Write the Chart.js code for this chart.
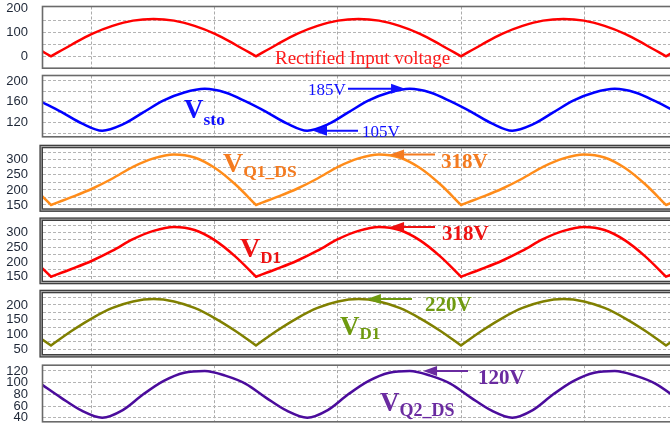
<!DOCTYPE html>
<html>
<head>
<meta charset="utf-8">
<title>Converter waveforms</title>
<script src="https://cdn.jsdelivr.net/npm/chart.js@4.4.1/dist/chart.umd.min.js"></script>
<style>
  html, body { margin: 0; padding: 0; background: #fff; }
  #scope { position: relative; width: 670px; height: 428px; overflow: hidden; }
  #scope canvas { position: absolute; left: 0; top: -30px; }
</style>
</head>
<body>
<div id="scope"></div>
<script>
// sample times (ms): cusped waveforms on whole ms, the smooth ones half a ms off
const tCusp = [-0.5].concat(Array.from({length: 31}, (v, k) => k), [30.5])
const tSmooth = Array.from({length: 32}, (v, k) => k - 0.5)
const cuspTimes = [0, 10, 20, 30]
const gridTimes = [2, 8, 14, 20, 26]

// rectified input voltage (V)
const vIn = [24,
  0, 48, 93, 126, 148, 155, 148, 126, 93, 48,
  0, 48, 93, 126, 148, 155, 148, 126, 93, 48,
  0, 48, 93, 126, 148, 155, 148, 126, 93, 48,
  0, 24]
// storage capacitor voltage (V)
const vSto = [161, 141, 119, 105, 117, 140, 163, 178, 185, 178,
  161, 141, 119, 105, 117, 140, 163, 178, 185, 178,
  161, 141, 119, 105, 117, 140, 163, 178, 185, 178,
  161, 141]
// Q1 drain-source voltage (V)
const vQ1ds = [184,
  150, 176, 204, 238, 277, 305, 318, 308, 273, 218,
  150, 176, 204, 238, 277, 305, 318, 308, 273, 218,
  150, 176, 204, 238, 277, 305, 318, 308, 273, 218,
  150, 164]
// D1 voltage (V)
const vD1 = [184,
  150, 176, 204, 238, 277, 305, 318, 308, 273, 218,
  150, 176, 204, 238, 277, 305, 318, 308, 273, 218,
  150, 176, 204, 238, 277, 305, 318, 308, 273, 218,
  150, 164]
// second diode trace (V)
const vD1b = [87,
  63, 112, 155, 190, 212, 220, 212, 190, 155, 112,
  63, 112, 155, 190, 212, 220, 212, 190, 155, 112,
  63, 112, 155, 190, 212, 220, 212, 190, 155, 112,
  63, 87]
// Q2 drain-source voltage (V)
const vQ2ds = [98, 74, 52, 40, 53, 80, 103, 117, 120, 112,
  98, 74, 52, 40, 53, 80, 103, 117, 120, 112,
  98, 74, 52, 40, 53, 80, 103, 117, 120, 112,
  98, 74]

// y ticks per panel: every tick gets a grid line, only some carry text
const inTicks = [0, 50, 100, 150, 200], inLabels = [0, 100, 200], inGrid = [0, 50, 100, 150]
const stoTicks = [100, 120, 140, 160, 180, 200], stoLabels = [120, 160, 200]
const hvTicks = [150, 175, 200, 225, 250, 275, 300, 325], hvLabels = [150, 200, 250, 300]
const d1bTicks = [50, 75, 100, 125, 150, 175, 200, 225], d1bLabels = [50, 100, 150, 200]
const q2Ticks = [40, 60, 80, 100, 120], q2Labels = [40, 60, 80, 100, 120]

const OFF = 30            // canvases start 30px above the page
const X_MIN = -0.39, X_MAX = 30.195
const SERIF = '"Liberation Serif", "Times New Roman", serif'
const SANS = '"Liberation Sans", Arial, sans-serif'
const py = y => y + OFF

const panels = [
  {values: vIn, times: tCusp, cusped: true, color: '#ff0000',
   top: 6.5, bottom: 68.2, yMin: -49.4, yMax: 206.6,
   ticks: inTicks, labels: inLabels, grid: inGrid, frame: 'single',
   texts: [{text: 'Rectified Input voltage', x: 275, y: 64, size: 19, color: '#ff1a1a'}],
   names: [], marks: []},
  {values: vSto, times: tSmooth, cusped: false, color: '#0000ff',
   top: 75.5, bottom: 136.8, yMin: 93.3, yMax: 210.5,
   ticks: stoTicks, labels: stoLabels, grid: stoTicks, frame: 'single',
   texts: [],
   names: [{main: 'V', sub: 'sto', x: 184, y: 118, subY: 124.5, size: 27, subSize: 17.5, color: '#1010ff'}],
   marks: [
     {value: Math.max(...vSto), t: 17.27, tailX: 348, textX: 308, textY: 95, size: 17, bold: false, color: '#1010ff'},
     {value: Math.min(...vSto), t: 12.78, tailX: 358, textX: 362, textY: 136.5, size: 17, bold: false, color: '#1010ff'}
   ]},
  {values: vQ1ds, times: tCusp, cusped: true, color: '#ff8c1a',
   top: 148.3, bottom: 208.3, yMin: 139, yMax: 338.4,
   ticks: hvTicks, labels: hvLabels, grid: hvTicks, frame: 'double',
   texts: [],
   names: [{main: 'V', sub: 'Q1_DS', x: 223, y: 172, subY: 176.5, size: 28, subSize: 17.5, color: '#f47b20'}],
   marks: [{value: Math.max(...vQ1ds), t: 16.54, tailX: 435, textX: 441, textY: 167.5, size: 21, bold: true, color: '#f47b20'}]},
  {values: vD1, times: tCusp, cusped: true, color: '#ff0000',
   top: 221, bottom: 280.7, yMin: 136.5, yMax: 338.6,
   ticks: hvTicks, labels: hvLabels, grid: hvTicks, frame: 'double',
   texts: [],
   names: [{main: 'V', sub: 'D1', x: 240, y: 257, subY: 263, size: 28, subSize: 17, color: '#ee1111'}],
   marks: [{value: Math.max(...vD1), t: 16.54, tailX: 435, textX: 442, textY: 239.5, size: 21, bold: true, color: '#ee1111'}]},
  {values: vD1b, times: tCusp, cusped: true, color: '#808000',
   top: 293.3, bottom: 354, yMin: 34.1, yMax: 239.6,
   ticks: d1bTicks, labels: d1bLabels, grid: d1bTicks, frame: 'double',
   texts: [],
   names: [{main: 'V', sub: 'D1', x: 340, y: 335, subY: 338.5, size: 27, subSize: 17, color: '#6f9a10'}],
   marks: [{value: Math.max(...vD1b), t: 15.41, tailX: 412, textX: 425, textY: 311, size: 21, bold: true, color: '#6f9a10'}]},
  {values: vQ2ds, times: tSmooth, cusped: false, color: '#4b0c9c',
   top: 365.2, bottom: 421.8, yMin: 33, yMax: 129.9,
   ticks: q2Ticks, labels: q2Labels, grid: q2Ticks, frame: 'single',
   texts: [],
   names: [{main: 'V', sub: 'Q2_DS', x: 380, y: 411, subY: 416, size: 27, subSize: 18, color: '#6a2ba0'}],
   marks: [{value: Math.max(...vQ2ds), t: 18.15, tailX: 468, textX: 478, textY: 383.5, size: 21, bold: true, color: '#6a2ba0'}]}
]

// a null right after each cusp splits the line there, so the monotone
// spline stays smooth along the arches but keeps the corner sharp
function toPoints(p) {
  const pts = []
  p.times.forEach((t, i) => {
    pts.push({x: t, y: p.values[i]})
    if (p.cusped && cuspTimes.includes(t)) {
      pts.push({x: t, y: null})
      pts.push({x: t, y: p.values[i]})
    }
  })
  return pts
}

function drawFrame(ctx, a, kind) {
  if (kind === 'double') {
    ctx.lineWidth = 3.6
    ctx.strokeStyle = '#404040'
    ctx.strokeRect(a.left - 1.8, a.top - 1.8, a.width + 20, a.height + 3.6)
    ctx.lineWidth = 1
    ctx.strokeStyle = '#a8a8a8'
    ctx.strokeRect(a.left - 1.8, a.top - 1.8, a.width + 20, a.height + 3.6)
  } else {
    ctx.lineWidth = 1.6
    ctx.strokeStyle = '#6a6a6a'
    ctx.strokeRect(a.left - 0.5, a.top, a.width + 20, a.height)
  }
}

function drawName(ctx, n) {
  ctx.fillStyle = n.color
  ctx.font = `bold ${n.size}px ${SERIF}`
  ctx.fillText(n.main, n.x, py(n.y))
  const w = ctx.measureText(n.main).width
  ctx.font = `bold ${n.subSize}px ${SERIF}`
  ctx.fillText(n.sub, n.x + w, py(n.subY))
}

function drawMark(ctx, scales, m) {
  const tipX = scales.x.getPixelForValue(m.t)
  const tipY = scales.y.getPixelForValue(m.value)
  const dir = m.tailX > tipX ? 1 : -1
  ctx.strokeStyle = m.color
  ctx.fillStyle = m.color
  ctx.lineWidth = 2
  ctx.beginPath()
  ctx.moveTo(m.tailX, tipY)
  ctx.lineTo(tipX + dir * 12, tipY)
  ctx.stroke()
  ctx.beginPath()
  ctx.moveTo(tipX, tipY)
  ctx.lineTo(tipX + dir * 14, tipY - 5)
  ctx.lineTo(tipX + dir * 14, tipY + 5)
  ctx.closePath()
  ctx.fill()
  ctx.font = `${m.bold ? 'bold ' : ''}${m.size}px ${SERIF}`
  ctx.fillText(`${m.value}V`, m.textX, py(m.textY))
}

function decorFor(p) {
  return {
    id: 'panelDecor',
    afterDraw(chart) {
      const {ctx, chartArea, scales} = chart
      ctx.save()
      drawFrame(ctx, chartArea, p.frame)
      ctx.textBaseline = 'alphabetic'
      ctx.textAlign = 'left'
      for (const t of p.texts) {
        ctx.fillStyle = t.color
        ctx.font = `${t.size}px ${SERIF}`
        ctx.fillText(t.text, t.x, py(t.y))
      }
      for (const n of p.names) drawName(ctx, n)
      for (const m of p.marks) drawMark(ctx, scales, m)
      ctx.restore()
    }
  }
}

function buildPanel(p) {
  const canvas = document.createElement('canvas')
  canvas.width = 670
  canvas.height = 428 + 2 * OFF
  document.getElementById('scope').appendChild(canvas)

  return new Chart(canvas, {
    type: 'line',
    data: {
      datasets: [{
        data: toPoints(p),
        borderColor: p.color,
        borderWidth: 2.5,
        borderCapStyle: 'round',
        borderJoinStyle: 'round',
        pointRadius: 0,
        fill: false,
        spanGaps: false,
        cubicInterpolationMode: 'monotone'
      }]
    },
    options: {
      responsive: false,
      animation: false,
      events: [],
      layout: {padding: {top: p.top + OFF, bottom: 428 + OFF - p.bottom, left: 0, right: 0}},
      plugins: {legend: {display: false}, tooltip: {enabled: false}},
      scales: {
        x: {
          type: 'linear', min: X_MIN, max: X_MAX,
          afterBuildTicks: s => { s.ticks = gridTimes.map(v => ({value: v})) },
          afterFit: s => { s.height = 0 },
          ticks: {display: false},
          grid: {color: '#ababab', lineWidth: 1, drawTicks: false},
          border: {display: false, dash: [3, 2]}
        },
        y: {
          type: 'linear', min: p.yMin, max: p.yMax,
          afterBuildTicks: s => { s.ticks = p.ticks.map(v => ({value: v})) },
          afterFit: s => { s.width = 43 },
          ticks: {
            autoSkip: false, padding: 15, color: '#1d2636',
            font: {family: SANS, size: 13},
            callback: v => p.labels.includes(v) ? String(v) : ''
          },
          grid: {
            drawTicks: false, lineWidth: 1,
            color: c => (c.tick && p.grid.includes(c.tick.value)) ? '#b4b4b4' : 'rgba(0,0,0,0)'
          },
          border: {display: false, dash: [3, 2]}
        }
      }
    },
    plugins: [decorFor(p)]
  })
}

panels.forEach(buildPanel)
</script>
</body>
</html>
